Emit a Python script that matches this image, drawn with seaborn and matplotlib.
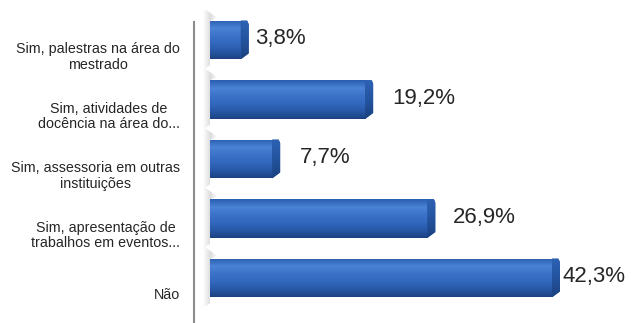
import matplotlib
matplotlib.use("Agg")
import matplotlib.pyplot as plt
import matplotlib.transforms as mtransforms
from matplotlib.colors import LinearSegmentedColormap
from matplotlib.patches import Polygon
import numpy as np
import pandas as pd
import seaborn as sns

# Respostas e percentuais
categorias = [
    "Sim, palestras na área do\nmestrado",
    "Sim, atividades de\ndocência na área do...",
    "Sim, assessoria em outras\ninstituições",
    "Sim, apresentação de\ntrabalhos em eventos...",
    "Não",
]
percentuais = [3.8, 19.2, 7.7, 26.9, 42.3]
rotulos = ["3,8%", "19,2%", "7,7%", "26,9%", "42,3%"]

# distância (px) entre o fim de cada barra e o seu rótulo
afastamento_px = [14, 27, 28, 25, 11]

sns.set_theme(style="white")
plt.rcParams["font.family"] = ["Liberation Sans", "DejaVu Sans"]

DPI = 100
fig = plt.figure(figsize=(6.32, 3.23), dpi=DPI)
fig.patch.set_facecolor("white")
ax = fig.add_axes([194 / 632, 1 - 307.75 / 323, 1 - 194 / 632, 297.5 / 323])

df = pd.DataFrame({"categoria": categorias, "percentual": percentuais})
sns.barplot(data=df, y="categoria", x="percentual", orient="h",
            color="#3568bd", saturation=1, width=0.65, ax=ax, zorder=3)

px_por_unidade = 8.085
xlim = (-16 / px_por_unidade, 422 / px_por_unidade)
ylim = (4.5, -0.5)

# gradiente vertical da face frontal das barras
grad = LinearSegmentedColormap.from_list(
    "face", ["#2a5eb0", "#4a83d5", "#3c73c9", "#3268be", "#2859a7", "#1d4283"])
grad_lado = LinearSegmentedColormap.from_list(
    "lado", ["#2d62b4", "#24549f", "#1b427f"])
grad_sombra = LinearSegmentedColormap.from_list(
    "sombra", ["#ffffff", "#d4d4d4", "#ffffff"])

prof = 8 / px_por_unidade   # profundidade da face lateral
chanfro = 0.1
col = np.linspace(0, 1, 64).reshape(-1, 1)
lin = np.linspace(0, 1, 64).reshape(1, -1)

for barra in list(ax.patches):
    x0, y0 = barra.get_x(), barra.get_y()
    w, h = barra.get_width(), barra.get_height()
    topo, base = y0, y0 + h   # eixo invertido: y0 fica em cima
    barra.set_edgecolor("none")

    # sombra suave na parede, à esquerda e acima da barra
    s = Polygon([(-0.9, topo - 0.22), (0.9, topo - 0.05),
                 (0.0, topo), (0.0, base + 0.1), (-0.9, base + 0.18)],
                closed=True, facecolor="none", edgecolor="none", zorder=2)
    ax.add_patch(s)
    img_s = ax.imshow(lin, cmap=grad_sombra, aspect="auto", alpha=0.8,
                      extent=(-0.9, 0.9, base + 0.2, topo - 0.25), zorder=2)
    img_s.set_clip_path(s)

    img = ax.imshow(col, cmap=grad, aspect="auto", origin="upper",
                    extent=(x0, x0 + w, base, topo), zorder=4)
    img.set_clip_path(barra)

    lado = Polygon([(x0 + w, topo), (x0 + w + prof * 0.8, topo),
                    (x0 + w + prof, topo + 0.06),
                    (x0 + w + prof, base - chanfro), (x0 + w, base)],
                   closed=True, facecolor="#2456a3", edgecolor="none",
                   zorder=4)
    ax.add_patch(lado)
    img2 = ax.imshow(col, cmap=grad_lado, aspect="auto", origin="upper",
                     extent=(x0 + w, x0 + w + prof, base, topo), zorder=5)
    img2.set_clip_path(lado)

ax.set_xlim(*xlim)
ax.set_ylim(*ylim)

# rótulos de valor
for i, (v, r, d) in enumerate(zip(percentuais, rotulos, afastamento_px)):
    ax.annotate(r, xy=(v, i), xytext=(d * 72 / DPI, 1), textcoords="offset points",
                ha="left", va="center", fontsize=16, color="#262626", zorder=6)

# rótulos das categorias (centralizados linha a linha, um pouco abaixo da barra)
ax.set_yticklabels([])
ax.set_xlabel("")
ax.set_ylabel("")
ax.set_xticks([])
ax.tick_params(axis="y", length=0)
trans = mtransforms.blended_transform_factory(ax.transAxes, ax.transData) + \
    mtransforms.ScaledTranslation(-14 / DPI, -17 / DPI, fig.dpi_scale_trans)
for i, cat in enumerate(categorias):
    ax.text(0, i, cat, transform=trans, ha="right", va="center",
            multialignment="center", fontsize=10.3, color="#262626",
            linespacing=1.15)

for lado_eixo in ["top", "right", "bottom"]:
    ax.spines[lado_eixo].set_visible(False)
ax.spines["left"].set_color("#8c8c8c")
ax.spines["left"].set_linewidth(1.5)
ax.spines["left"].set_bounds(-0.3, 4.76)
ax.set_facecolor("white")
ax.grid(False)

fig.savefig("out.png", dpi=DPI, facecolor="white")
